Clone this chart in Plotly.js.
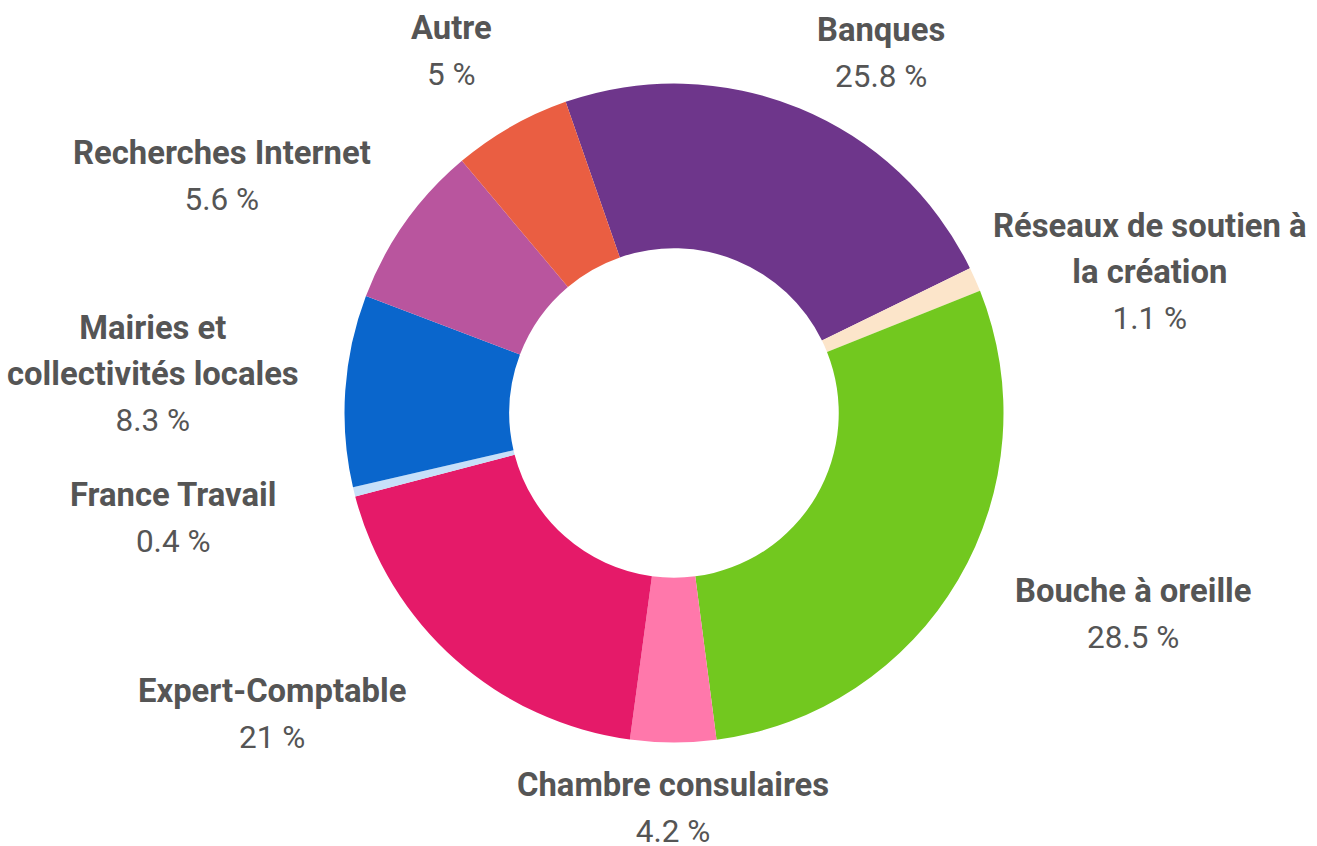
<!DOCTYPE html>
<html>
<head>
<meta charset="utf-8">
<script src="https://cdn.plot.ly/plotly-3.0.1.min.js"></script>
<style>
html,body{margin:0;padding:0;background:#ffffff;}
#chart{width:1317px;height:846px;}
</style>
</head>
<body>
<div id="chart"></div>
<script>
// ---- Data ----
const categories = ["Banques", "Réseaux de soutien à la création", "Bouche à oreille", "Chambre consulaires",
                    "Expert-Comptable", "France Travail", "Mairies et collectivités locales",
                    "Recherches Internet", "Autre"];
// slice sizes as drawn (share of the ring, %)
const sliceShares = [23.1, 1.2, 29.0, 4.2, 18.8, 0.45, 9.4, 8.1, 5.8];
// percentages printed next to each slice
const percentLabels = ["25.8 %", "1.1 %", "28.5 %", "4.2 %", "21 %", "0.4 %", "8.3 %", "5.6 %", "5 %"];
const sliceColors = ["#6E368B", "#FCE5CA", "#72C81F", "#FF78AB", "#E51A69", "#C7E0F9", "#0A66CC", "#B9559E", "#EA5E42"];

// ---- Layout settings ----
const W = 1317, H = 846;
const startAngle = -19.2;               // degrees, clockwise from 12 o'clock
const domainX = [0.26158, 0.76196];
const domainY = [0.12234, 0.90130];
const labelDistance = 29;              // px beyond outer radius
// fine placement of each label block relative to its anchor point (px)
const labelOffsets = [[71, -28], [148, 4], [150, 20], [0, 37], [-164, 33], [-153, 19], [-163, -15], [-160, -30], [-45, -50]];
const fontFamily = "Roboto, 'Noto Sans', sans-serif";
const textColor = "#555555";

function wrap(str, maxChars) {
  const words = str.split(" ");
  const lines = [];
  let cur = "";
  words.forEach(w => {
    const trial = cur ? cur + " " + w : w;
    if (trial.length > maxChars && cur) { lines.push(cur); cur = w; }
    else cur = trial;
  });
  if (cur) lines.push(cur);
  return lines;
}

const cx = (domainX[0] + domainX[1]) / 2 * W;
const cy = (1 - (domainY[0] + domainY[1]) / 2) * H;
const R = Math.min((domainX[1] - domainX[0]) * W, (domainY[1] - domainY[0]) * H) / 2;
const total = sliceShares.reduce((a, b) => a + b, 0);

const annotations = [];
let angle = startAngle;
sliceShares.forEach((v, i) => {
  const span = v / total * 360;
  const mid = (angle + span / 2) * Math.PI / 180;
  angle += span;
  const px = cx + (R + labelDistance) * Math.sin(mid) + labelOffsets[i][0];
  const py = cy - (R + labelDistance) * Math.cos(mid) + labelOffsets[i][1];
  const nameLines = wrap(categories[i], 21).map(l => '<span style="font-size:32.8px"><b>' + l + '</b></span>');
  const text = nameLines.join("<br>") + '<br><span style="font-size:31.5px">' + percentLabels[i] + '</span>';
  annotations.push({
    x: px / W, y: 1 - py / H, xref: "paper", yref: "paper",
    xanchor: "center", yanchor: "middle", align: "center",
    showarrow: false, text: text,
    font: {family: fontFamily, size: 35.4, color: textColor}
  });
});

const trace = {
  type: "pie",
  labels: categories,
  values: sliceShares,
  text: percentLabels,
  hole: 0.5,
  sort: false,
  direction: "clockwise",
  rotation: startAngle,
  textinfo: "none",
  hovertemplate: "%{label}<br>%{text}<extra></extra>",
  marker: {colors: sliceColors, line: {width: 0}},
  domain: {x: domainX, y: domainY},
  showlegend: false
};

const layout = {
  width: W, height: H,
  margin: {l: 0, r: 0, t: 0, b: 0},
  paper_bgcolor: "#ffffff",
  plot_bgcolor: "#ffffff",
  showlegend: false,
  annotations: annotations,
  font: {family: fontFamily, color: textColor}
};

Plotly.newPlot("chart", [trace], layout, {displayModeBar: false, responsive: false});
</script>
</body>
</html>
